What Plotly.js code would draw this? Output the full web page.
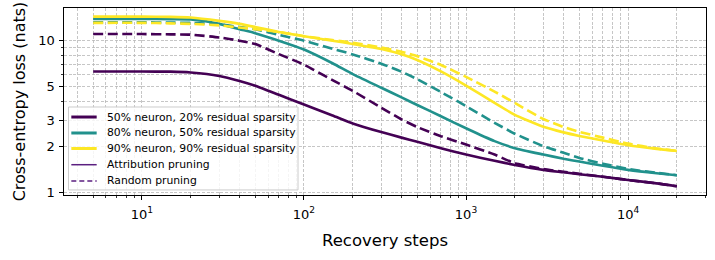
<!DOCTYPE html>
<html>
<head>
<meta charset="utf-8">
<script src="https://cdn.plot.ly/plotly-3.0.1.min.js"></script>
<style>html,body{margin:0;padding:0;background:#fff;}#chart{width:715px;height:260px;}</style>
</head>
<body>
<div id="chart"></div>
<script>
const steps = [5, 10, 15, 20, 30, 40, 50, 70, 100, 150, 200, 300, 400, 500, 700, 1000, 1500, 2000, 3000, 4000, 5000, 7000, 10000, 15000, 20000];

const attr_50_20 = [6.26, 6.26, 6.25, 6.17, 5.86, 5.43, 5.05, 4.4, 3.8, 3.22, 2.85, 2.5, 2.3, 2.16, 1.96, 1.78, 1.62, 1.52, 1.41, 1.36, 1.32, 1.27, 1.21, 1.15, 1.10];
const rand_50_20 = [11.07, 11.05, 11.0, 10.95, 10.5, 10.0, 9.5, 8.15, 6.95, 5.5, 4.67, 3.62, 3.03, 2.7, 2.35, 2.07, 1.78, 1.56, 1.43, 1.37, 1.33, 1.27, 1.21, 1.15, 1.10];
const attr_80_50 = [13.9, 13.9, 13.85, 13.8, 12.9, 11.9, 11.2, 10.0, 8.74, 7.1, 6.02, 4.9, 4.23, 3.77, 3.18, 2.65, 2.18, 1.96, 1.78, 1.67, 1.6, 1.5, 1.41, 1.34, 1.30];
const rand_80_50 = [13.2, 13.2, 13.15, 13.1, 12.8, 12.3, 11.9, 10.9, 10.0, 8.85, 8.12, 7.05, 6.24, 5.58, 4.59, 3.71, 2.88, 2.44, 2.02, 1.83, 1.69, 1.55, 1.43, 1.35, 1.30];
const attr_90_90 = [14.4, 14.4, 14.35, 14.2, 13.5, 12.9, 12.3, 11.4, 10.7, 10.0, 9.5, 8.8, 8.13, 7.46, 6.27, 5.06, 3.89, 3.25, 2.71, 2.49, 2.36, 2.2, 2.05, 1.94, 1.88];
const rand_90_90 = [13.1, 13.1, 13.0, 12.9, 12.6, 12.2, 11.9, 11.4, 10.7, 10.1, 9.7, 9.0, 8.45, 7.9, 6.92, 5.78, 4.62, 3.89, 3.05, 2.7, 2.51, 2.3, 2.1, 1.95, 1.88];

const configLabels = ["50% neuron, 20% residual sparsity", "80% neuron, 50% residual sparsity", "90% neuron, 90% residual sparsity"];
const styleLabels = ["Attribution pruning", "Random pruning"];
const xTickVals = [10, 100, 1000, 10000];
const xTickText = ["10<sup>1</sup>", "10<sup>2</sup>", "10<sup>3</sup>", "10<sup>4</sup>"];
const yTickVals = [1, 2, 3, 5, 10];
const yTickText = ["1", "2", "3", "5", "10"];

const colors = ["#440154", "#21918c", "#fde725"];
const styleColor = "#5b1f80";
const lw = 2.6;
const dashStyle = "10px,4.5px";

const series = [
  [attr_50_20, rand_50_20],
  [attr_80_50, rand_80_50],
  [attr_90_90, rand_90_90]
];

const traces = [];
series.forEach((pair, i) => {
  traces.push({x: steps, y: pair[1], mode: "lines", line: {color: colors[i], width: lw, dash: dashStyle, shape: "spline", smoothing: 0.5}, showlegend: false, hoverinfo: "skip"});
  traces.push({x: steps, y: pair[0], mode: "lines", line: {color: colors[i], width: lw, shape: "spline", smoothing: 0.5}, showlegend: false, hoverinfo: "skip"});
});

// Legend drawn with shapes + annotations (paper coordinates) to match the compact reference layout
const legBox = {x0: 0.007, x1: 0.3645, y0: 0.027, y1: 0.4706};
const entryY = [0.417, 0.3316, 0.2487, 0.162, 0.0749];
const keyX0 = 0.0114, keyX1 = 0.0509, textX = 0.0634;
const legendItems = [
  {label: configLabels[0], color: colors[0], width: 3, dash: "solid"},
  {label: configLabels[1], color: colors[1], width: 3, dash: "solid"},
  {label: configLabels[2], color: colors[2], width: 3, dash: "solid"},
  {label: styleLabels[0], color: styleColor, width: 1.5, dash: "solid"},
  {label: styleLabels[1], color: styleColor, width: 1.5, dash: "5px,3px"}
];
const shapes = [{
  type: "rect", xref: "paper", yref: "paper",
  x0: legBox.x0, x1: legBox.x1, y0: legBox.y0, y1: legBox.y1,
  fillcolor: "rgba(255,255,255,0.82)", line: {color: "#cccccc", width: 1}, layer: "above"
}];
const annotations = [];
legendItems.forEach((it, k) => {
  shapes.push({type: "line", xref: "paper", yref: "paper", x0: keyX0, x1: keyX1, y0: entryY[k], y1: entryY[k],
    line: {color: it.color, width: it.width, dash: it.dash}, layer: "above"});
  annotations.push({xref: "paper", yref: "paper", x: textX, y: entryY[k], xanchor: "left", yanchor: "middle",
    text: it.label, showarrow: false, font: {size: 10.8, family: "DejaVu Sans, sans-serif", color: "#000"}});
});

function minorVals(lo, hi) {
  const out = [];
  for (let d = lo; d <= hi; d++) {
    for (let k = 2; k <= 9; k++) out.push(k * Math.pow(10, d));
  }
  return out;
}

const gridColor = "#b8b8b8";
const gridDash = "3px,1.6px";
const font = {family: "DejaVu Sans, sans-serif", color: "#000"};

const layout = {
  width: 715, height: 260,
  margin: {l: 64, r: 9, t: 8, b: 65, pad: 0},
  paper_bgcolor: "#fff", plot_bgcolor: "#fff",
  font: Object.assign({size: 12}, font),
  showlegend: false,
  shapes: shapes,
  annotations: annotations,
  xaxis: {
    type: "log", range: [0.519, 4.481],
    tickmode: "array", tickvals: xTickVals, ticktext: xTickText,
    ticks: "outside", ticklen: 4, tickwidth: 1, tickcolor: "#000",
    ticklabelstandoff: 3,
    showline: true, mirror: true, linecolor: "#000", linewidth: 1.2,
    showgrid: true, gridcolor: gridColor, griddash: gridDash, gridwidth: 0.8,
    zeroline: false,
    tickfont: {size: 13},
    title: {text: "Recovery steps", font: {size: 16.5}, standoff: 13},
    minor: {tickmode: "array", tickvals: minorVals(0, 4), ticks: "outside", ticklen: 2, tickcolor: "#000", tickwidth: 0.8, showgrid: true, gridcolor: gridColor, griddash: gridDash, gridwidth: 0.8}
  },
  yaxis: {
    type: "log", range: [-0.016, 1.215],
    tickmode: "array", tickvals: yTickVals, ticktext: yTickText,
    ticks: "outside", ticklen: 3.5, tickwidth: 1, tickcolor: "#000",
    ticklabelstandoff: 2,
    showline: true, mirror: true, linecolor: "#000", linewidth: 1.2,
    showgrid: true, gridcolor: gridColor, griddash: gridDash, gridwidth: 0.8,
    zeroline: false,
    tickfont: {size: 13},
    title: {text: "Cross-entropy loss (nats)", font: {size: 16}, standoff: 8},
    minor: {tickmode: "array", tickvals: [4, 6, 7, 8, 9], ticks: "outside", ticklen: 2, tickcolor: "#000", tickwidth: 0.8, showgrid: true, gridcolor: gridColor, griddash: gridDash, gridwidth: 0.8}
  }
};

Plotly.newPlot("chart", traces, layout, {staticPlot: true, displayModeBar: false});
</script>
</body>
</html>
